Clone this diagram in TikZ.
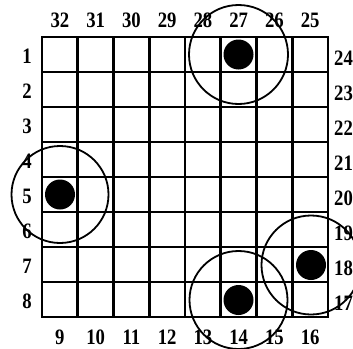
\documentclass[tikz,border=0pt]{standalone}
\usepackage{fontspec}
\setmainfont{Liberation Serif}
\newcommand{\lbl}[1]{{\fontsize{22pt}{22pt}\selectfont\bfseries #1}}
\begin{document}
\begin{tikzpicture}[x=1pt,y=-1pt,
  gridline/.style={line width=2.6pt, line cap=rect},
  ring/.style={line width=1.8pt},
  stone/.style={circle, fill=black, inner sep=0pt, minimum size=30pt},
  lab/.style={inner sep=0pt, xscale=0.85, transform shape}]
\useasboundingbox (0,0) rectangle (353,348);
\clip (0,0) rectangle (353,348);
% grid
\foreach \i in {0,...,8} {
  \draw[gridline] (42+\i*35.75, 37) -- (42+\i*35.75, 317);
  \draw[gridline] (42, 37+\i*35) -- (328, 37+\i*35);
}
% labels
\foreach \n [count=\k from 0] in {32,31,30,29,28,27,26,25}
  \node[lab] (t\n) at (59.9+\k*35.75, 20) {\lbl{\n}};
\foreach \n [count=\k from 0] in {9,10,11,12,13,14,15,16}
  \node[lab] (b\n) at (59.9+\k*35.75, 337) {\lbl{\n}};
\foreach \n [count=\k from 0] in {1,2,3,4,5,6,7,8}
  \node[lab] (l\n) at (27, 56+\k*35) {\lbl{\n}};
\foreach \n [count=\k from 0] in {24,23,22,21,20,19,18,17}
  \node[lab, anchor=west] (r\n) at (334, 58+\k*35) {\lbl{\n}};
% stones
\node[stone] (s27) at (238.5,54.5) {};
\node[stone] (s5) at (60,194.5) {};
\node[stone] (s14) at (238.5,300) {};
\node[stone] (s18) at (311,265) {};
% rings
\draw[ring] (s27.center) circle[radius=49.5pt];
\draw[ring] (s5.center) circle[radius=48.5pt];
\draw[ring] (s14.center) circle[radius=49pt];
\draw[ring] (s18.center) circle[radius=49.5pt];
\end{tikzpicture}
\end{document}
